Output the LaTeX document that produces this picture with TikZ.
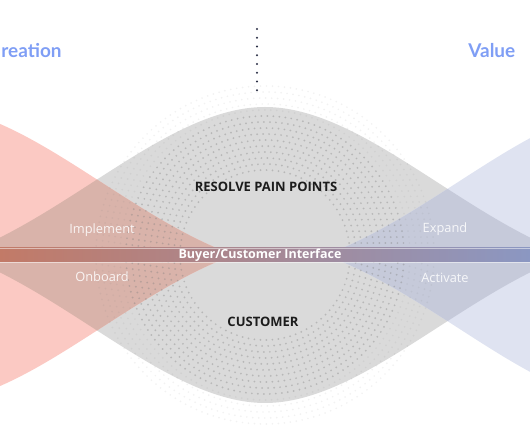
\documentclass[tikz,border=0pt]{standalone}
\usepackage{fontspec}
\usepackage{xcolor}
\usepackage{tikz}
\setmainfont{Open Sans}
\newfontfamily\headfont{Lato}

\definecolor{lensgray}{HTML}{DADADA}
\definecolor{lensred}{HTML}{FBC9C3}
\definecolor{lensblue}{HTML}{DFE3F1}
\definecolor{mixred}{HTML}{D9B3AA}
\definecolor{mixblue}{HTML}{C6CADA}
\definecolor{barred}{HTML}{C27A67}
\definecolor{bargray}{HTML}{9C9C9C}
\definecolor{barblue}{HTML}{8B97C2}
\definecolor{headblue}{HTML}{7F9EF5}
\definecolor{inkdark}{HTML}{1C1C1C}
\definecolor{pathdark}{HTML}{2A2F45}

\newcommand{\graylens}{(-0.8,3.74) .. controls (1.4,4.54) and (3.4,6.7) .. (5.3,6.7)
	.. controls (7.2,6.7) and (9.2,4.54) .. (11.4,3.74)
	.. controls (9.2,2.94) and (7.2,0.78) .. (5.3,0.78)
	.. controls (3.4,0.78) and (1.4,2.94) .. cycle}
\newcommand{\redlens}{(4.68,3.74) .. controls (2.48,4.54) and (0.48,6.7) .. (-1.42,6.7)
	.. controls (-3.32,6.7) and (-5.32,4.54) .. (-7.52,3.74)
	.. controls (-5.32,2.94) and (-3.32,0.78) .. (-1.42,0.78)
	.. controls (0.48,0.78) and (2.48,2.94) .. cycle}
\newcommand{\bluelens}{(6.5,3.74) .. controls (8.7,4.54) and (10.7,6.7) .. (12.6,6.7)
	.. controls (14.5,6.7) and (16.5,4.54) .. (18.7,3.74)
	.. controls (16.5,2.94) and (14.5,0.78) .. (12.6,0.78)
	.. controls (10.7,0.78) and (8.7,2.94) .. cycle}

\tikzset{
	headtext/.style={inner sep=0pt, text=headblue, font=\headfont\bfseries\fontsize{10.8}{12}\selectfont},
	bandtext/.style={text=inkdark, font=\bfseries\fontsize{7.4}{9}\selectfont},
	stagetext/.style={text=white, text opacity=0.85, font=\fontsize{7.3}{9}\selectfont},
	bartext/.style={text=white, font=\bfseries\fontsize{7.1}{8}\selectfont},
	ringdots/.style={draw=gray, line width=1.1pt, line cap=round, dash pattern=on 0pt off 0.12cm},
	pathdots/.style={draw=pathdark, line width=1.2pt, line cap=round, dash pattern=on 0pt off 0.175cm}
}

\begin{document}
\begin{tikzpicture}
	\useasboundingbox (0,0) rectangle (10.6,8.84);
	\clip (0,0) rectangle (10.6,8.84);

	% lenses
	\fill[lensgray] \graylens;
	\fill[lensred] \redlens;
	\fill[lensblue] \bluelens;
	\begin{scope}
		\clip \graylens;
		\fill[mixred] \redlens;
		\fill[mixblue] \bluelens;
	\end{scope}

	% halftone rings
	\foreach \r in {1.7,1.82,...,3.5}
		\draw[ringdots, opacity=0.1] (5.3,3.74) circle (\r);
	\begin{scope}
		\clip \graylens;
		\foreach \r in {1.7,1.82,...,2.8}
			\draw[ringdots, opacity=0.3] (5.3,3.74) circle (\r);
	\end{scope}

	% interface bar
	\shade[left color=barred, middle color=bargray, right color=barblue] (0,3.6) rectangle (10.6,3.88);
	\draw[white, opacity=0.5, line width=0.4pt] (0,3.88) -- (10.6,3.88);
	\draw[white, opacity=0.5, line width=0.4pt] (0,3.6) -- (10.6,3.6);
	\node[bartext] (interface) at (5.2,3.74) {Buyer/Customer Interface};

	% dotted divider
	\coordinate (linetop) at (5.14,8.26);
	\coordinate (linebot) at (5.14,6.86);
	\draw[pathdots] (linetop) -- (linebot);

	\node[headtext, anchor=west] (creation) at (0.02,7.82) {reation};
	\node[headtext, anchor=west] (value) at (9.36,7.82) {Value};

	\node[bandtext] (pain) at (5.32,5.1) {RESOLVE PAIN POINTS};
	\node[bandtext] (customer) at (5.26,2.4) {CUSTOMER};

	\node[stagetext] (implement) at (2.04,4.24) {Implement};
	\node[stagetext] (onboard) at (2.04,3.3) {Onboard};
	\node[stagetext] (expand) at (8.9,4.26) {Expand};
	\node[stagetext] (activate) at (8.9,3.28) {Activate};
\end{tikzpicture}
\end{document}
